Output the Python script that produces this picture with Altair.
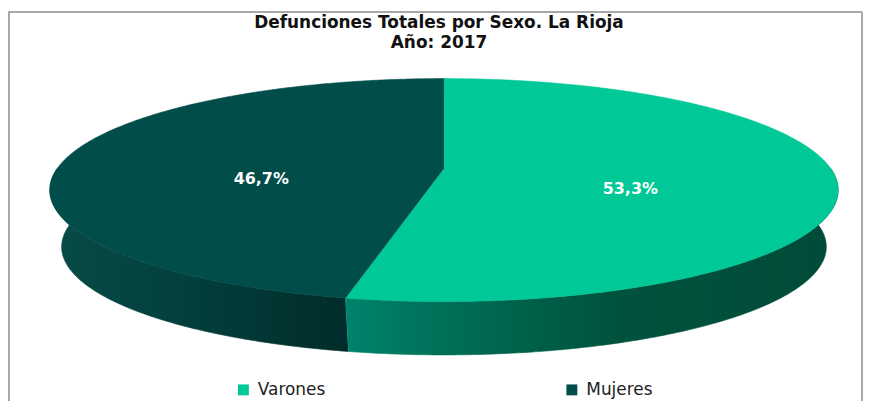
import math
import altair as alt
import pandas as pd

# ---- data ----
categories = ["Varones", "Mujeres"]
values = [53.3, 46.7]
top_colors = ["#00C896", "#004D4A"]
title_lines = ["Defunciones Totales por Sexo. La Rioja", "Año: 2017"]

# ---- layout / geometry (pixel-like units of the frame) ----
PAD_L, PAD_T = 4, 3
W, H = 858, 390
PX0, PY0 = 8 + PAD_L, 8 + PAD_T
CX, RX0, A, B, C = 446.0, 388.3, 74.68, 168.0, -0.1964  # perspective pie top
CYE, K, D = 190.0, 0.97, 57.0                            # bottom face


def proj(theta, r=1.0):
    t = math.radians(theta)
    u, v = r * math.sin(t), -r * math.cos(t)
    den = 1 + C * v
    return CX + RX0 * u / den, (A * v + B) / den


def bottom(x, y):
    return CX + K * (x - CX), CYE + K * (y - CYE) + D


total = sum(values)
slices = []
acc = 0.0
for cat, val in zip(categories, values):
    s = acc / total * 360
    acc += val
    e = acc / total * 360
    slices.append((cat, val, s, e))


def arc_angles(s, e):
    n = max(2, int(abs(e - s) * 2) + 1)
    return [s + (e - s) * k / (n - 1) for k in range(n)]


top_rows, side_rows, label_rows = [], [], []
for cat, val, s, e in slices:
    i = 0
    ax, ay = proj(0, 0)
    top_rows.append(dict(sexo=cat, i=i, x=ax, y=ay))
    for th in arc_angles(s, e):
        i += 1
        x, y = proj(th)
        top_rows.append(dict(sexo=cat, i=i, x=x, y=y))
    # visible front side part
    a0, a1 = max(s, 90), min(e, 270)
    if a1 > a0:
        j = 0
        angs = arc_angles(a0, a1)
        for th in angs:
            x, y = proj(th)
            side_rows.append(dict(sexo=cat, i=j, x=x, y=y))
            j += 1
        for th in reversed(angs):
            x, y = bottom(*proj(th))
            side_rows.append(dict(sexo=cat, i=j, x=x, y=y))
            j += 1
    mid = (s + e) / 2
    lx, ly = proj(mid, 0.48)
    label_rows.append(dict(sexo=cat, x=lx, y=ly,
                           label=f"{val:.1f}%".replace(".", ",")))

top_df = pd.DataFrame(top_rows)
side_df = pd.DataFrame(side_rows)
label_df = pd.DataFrame(label_rows)

xs = alt.Scale(domain=[PX0, PX0 + W])
ys = alt.Scale(domain=[PY0, PY0 + H], reverse=True)
X = alt.X("x:Q", scale=xs, axis=None)
Y = alt.Y("y:Q", scale=ys, axis=None)


def grad(stops):
    return {"gradient": "linear", "x1": 0, "x2": 1, "y1": 0, "y2": 0,
            "stops": [{"offset": o, "color": c} for o, c in stops]}


grad_m = grad([(0, "#074b47"), (0.45, "#033f3c"), (1, "#002c2a")])
grad_v = grad([(0, "#00836b"), (0.3, "#00664f"), (0.55, "#00523d"), (1, "#004b39")])

side_m = alt.Chart(side_df).transform_filter(alt.datum.sexo == "Mujeres").mark_line(
    fill=grad_m, stroke=grad_m, strokeWidth=0.6).encode(x=X, y=Y, order="i:Q")
side_v = alt.Chart(side_df).transform_filter(alt.datum.sexo == "Varones").mark_line(
    fill=grad_v, stroke=grad_v, strokeWidth=0.6).encode(x=X, y=Y, order="i:Q")

cscale = alt.Scale(domain=categories, range=top_colors)
tops = alt.Chart(top_df).mark_line(strokeWidth=0.6).encode(
    x=X, y=Y, order="i:Q",
    fill=alt.Fill("sexo:N", scale=cscale, title=None, legend=alt.Legend(
        orient="none", legendX=236 - PX0, legendY=382 - PY0, direction="horizontal",
        symbolType="square", symbolSize=120, symbolStrokeWidth=0,
        labelFont="DejaVu Sans", labelFontSize=17, labelColor="#222222",
        labelOffset=6, columnPadding=239, title=None)),
    stroke=alt.Stroke("sexo:N", scale=cscale, legend=None),
)

labels = alt.Chart(label_df).mark_text(
    font="DejaVu Sans", fontWeight="bold", fontSize=16, color="white", dy=16
).encode(x=X, y=Y, text="label:N")

frame_l = alt.Chart(top_df).mark_rule(color="#a8a8a8", strokeWidth=1.3).encode(
    x=alt.value(8.5 - PX0), y=alt.value(0), y2=alt.value(H + 10))
frame_t = alt.Chart(top_df).mark_rule(color="#a8a8a8", strokeWidth=1.3).encode(
    x=alt.value(8.5 - PX0), x2=alt.value(866 - PX0), y=alt.value(0.5))
frame_r = alt.Chart(top_df).mark_rule(color="#a8a8a8", strokeWidth=1.3).encode(
    x=alt.value(866 - PX0), y=alt.value(0), y2=alt.value(H + 10))

chart = alt.layer(side_m, side_v, tops, labels, frame_l, frame_t, frame_r).properties(
    width=W, height=H,
    padding={"left": PAD_L, "top": PAD_T, "right": 0, "bottom": 0},
    autosize=alt.AutoSizeParams(type="none"),
    title=alt.TitleParams(text=title_lines, font="DejaVu Sans", fontSize=17,
                          fontWeight="bold", color="#111111", anchor="middle",
                          baseline="top", offset=-41, lineHeight=20),
).configure_view(stroke=None)

chart.save("out.html", embed_options={"renderer": "svg", "actions": False})
